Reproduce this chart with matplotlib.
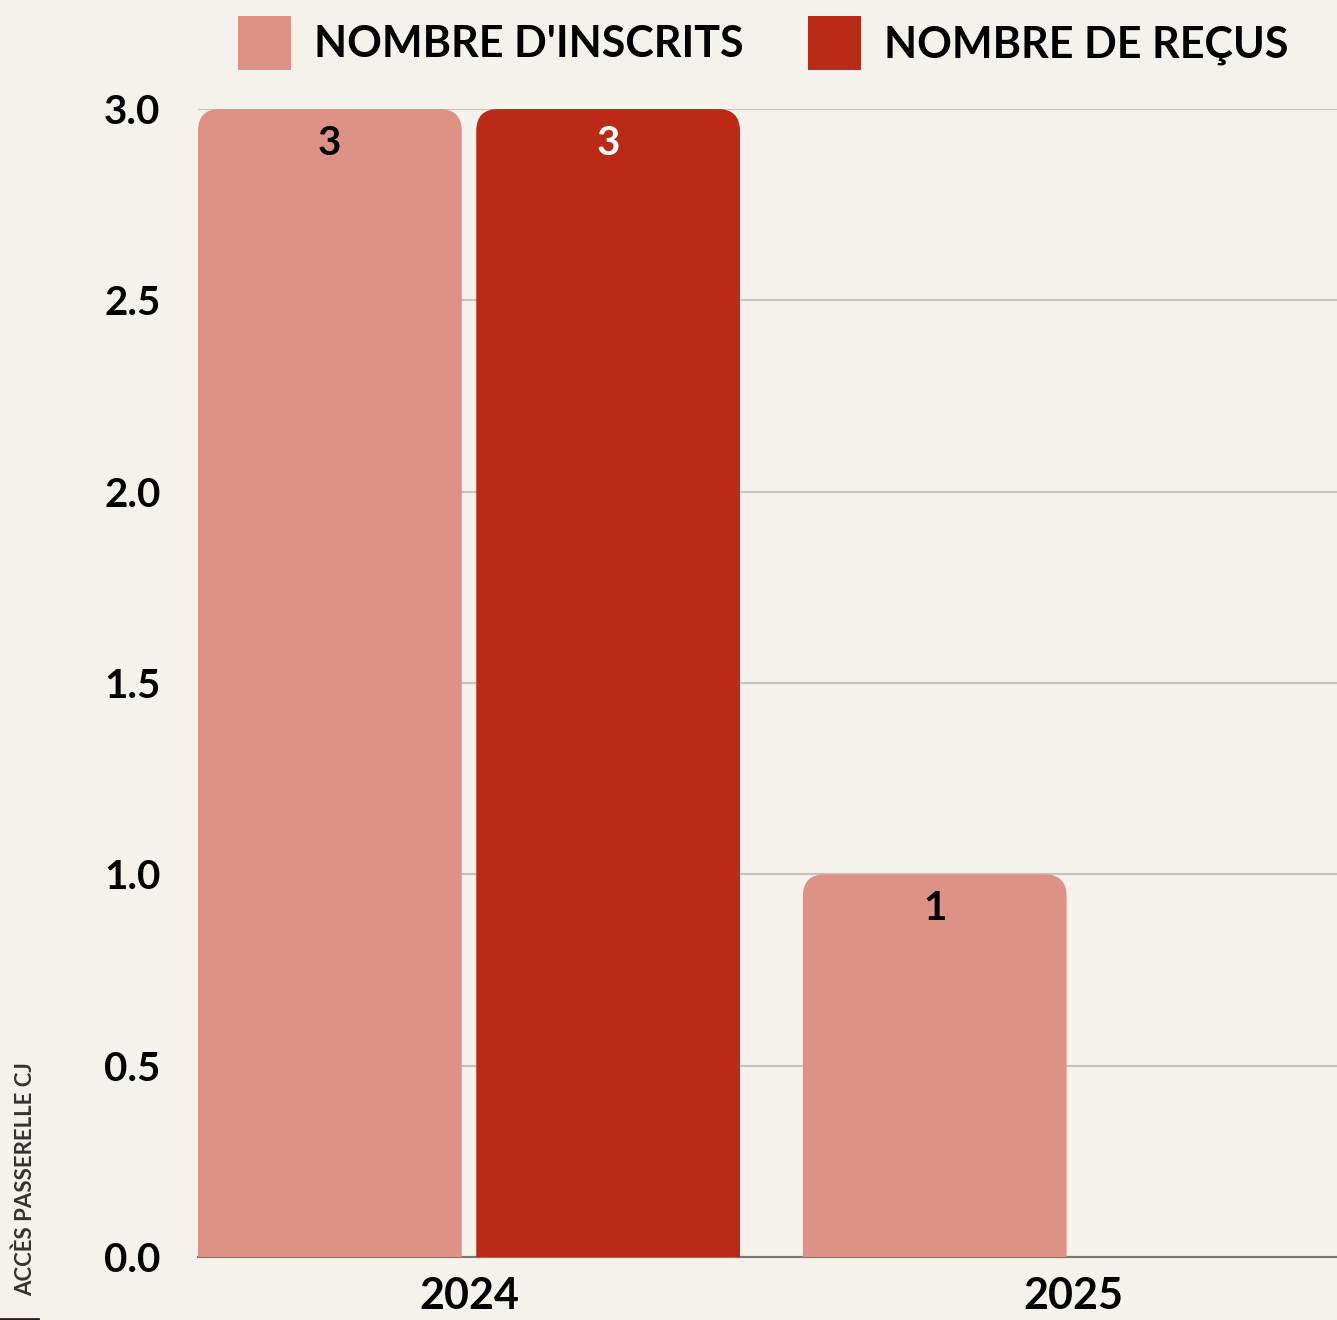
import matplotlib.pyplot as plt
from matplotlib.patches import FancyBboxPatch, Patch
from matplotlib.lines import Line2D
import numpy as np

# data
years = ['2024', '2025']
inscrits = [3, 1]
recus = [3, 0]
series_names = ["NOMBRE D'INSCRITS", 'NOMBRE DE REÇUS']
yticks = [0.0, 0.5, 1.0, 1.5, 2.0, 2.5, 3.0]

bg = '#F5F2EB'
c_pink = '#DE9185'
c_red = '#BB2A17'

plt.rcParams['font.family'] = ['Lato', 'DejaVu Sans']

fig = plt.figure(figsize=(13.37, 13.2), dpi=100, facecolor=bg)
ax = fig.add_axes([198/1337, 63/1320, 1 - 198/1337, (1257-109)/1320])
ax.set_facecolor(bg)

x = np.arange(len(years))
w = 0.436
off = 0.23
xpx, ypx = 605.0, 382.7   # pixels per data unit (x and y)
r = 22/xpx

def rounded_bars(xs, vals, color, txtcolor):
    bars = ax.bar(xs, vals, w, color=color, zorder=2)
    for b, v in zip(bars, vals):
        b.set_visible(False)
        if v <= 0:
            continue
        p = FancyBboxPatch((b.get_x(), -0.2), b.get_width(), v + 0.2,
                           boxstyle='round,pad=0,rounding_size=%f' % r,
                           mutation_aspect=xpx/ypx, fc=color, ec='none', zorder=2)
        ax.add_patch(p)
        ax.text(b.get_x() + b.get_width()/2, v - 0.09, '%d' % v, ha='center', va='center',
                fontsize=29, fontweight='bold', color=txtcolor, zorder=3)
    return bars

rounded_bars(x - off, inscrits, c_pink, 'black')
rounded_bars(x + off, recus, c_red, 'white')

ax.set_xlim(-0.448, 1.435)
ax.set_ylim(0, 3.0)
ax.set_yticks(yticks)
ax.set_yticklabels(['%.1f' % t for t in yticks])
ax.set_xticks(x)
ax.set_xticklabels(years)
ax.tick_params(axis='y', length=0, pad=27, labelsize=29)
ax.tick_params(axis='x', length=0, pad=14, labelsize=31)
for lab in ax.get_xticklabels() + ax.get_yticklabels():
    lab.set_fontweight('bold')

ax.yaxis.grid(True, color='#C4C2BE', linewidth=1.5, zorder=0)
ax.set_axisbelow(True)
for s in ['top', 'right', 'left']:
    ax.spines[s].set_visible(False)
ax.spines['bottom'].set_color('#777777')
ax.spines['bottom'].set_linewidth(1.5)
ax.spines['bottom'].set_zorder(1)

fig.text(25/1337, 1 - 1179/1320, 'ACCÈS PASSERELLE CJ', rotation=90, ha='center', va='center',
         fontsize=16, fontweight='bold', color='#333333')
fig.add_artist(Line2D([0, 38/1337], [1.5/1320, 1.5/1320], color='#222222', linewidth=2,
                      transform=fig.transFigure))

handles = [Patch(facecolor=c_pink), Patch(facecolor=c_red)]
leg = ax.legend(handles, series_names, loc='center', bbox_to_anchor=(763/1337, 1 - 43/1320),
                bbox_transform=fig.transFigure, ncol=2, frameon=False,
                prop={'size': 31, 'weight': 'bold'}, handlelength=1.23, handleheight=1.52,
                handletextpad=0.53, columnspacing=1.5)

fig.savefig('out.png', dpi=100, facecolor=bg)
